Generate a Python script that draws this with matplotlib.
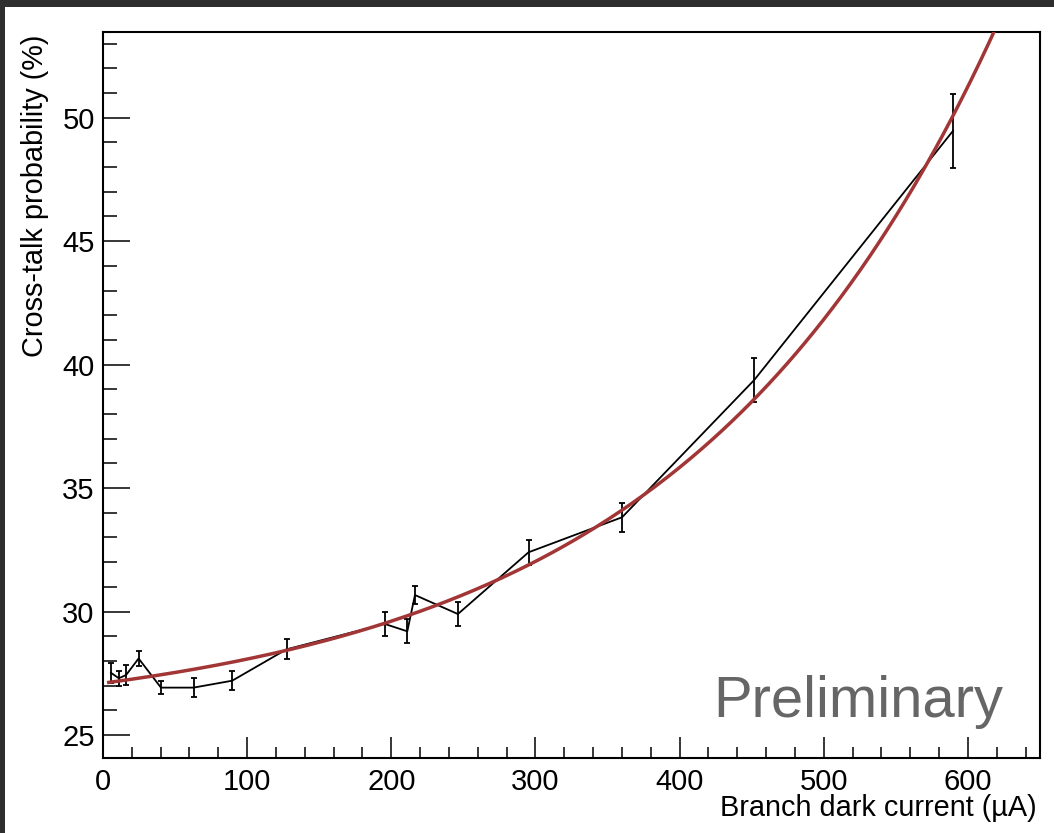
import numpy as np
import matplotlib.pyplot as plt
from matplotlib.patches import Rectangle
from matplotlib.ticker import MultipleLocator

plt.rcParams['font.family'] = ['Liberation Sans', 'DejaVu Sans']

# measured cross-talk vs. branch dark current
dark_current = [5.5, 11, 16, 24.7, 40.2, 62.8, 89.6, 127.3, 195.4, 211.1,
                216.4, 246.2, 295.2, 360.1, 451.8, 589.7]
crosstalk = [27.52, 27.3, 27.43, 28.1, 26.92, 26.92, 27.2, 28.47, 29.5, 29.2,
             30.67, 29.9, 32.4, 33.82, 39.38, 49.47]
crosstalk_err = [0.4, 0.3, 0.39, 0.31, 0.26, 0.38, 0.39, 0.4, 0.49, 0.49,
                 0.38, 0.49, 0.51, 0.59, 0.9, 1.5]

# exponential fit: p0 + p1 * exp(x / p2)
fit_p0 = 25.4
fit_p1 = 1.7
fit_p2 = 220.4
fit_xmin, fit_xmax = 4, 640

W, H = 1054, 833
fig = plt.figure(figsize=(W / 100, H / 100), dpi=100, facecolor='#2e2e2e')
fig.patches.append(Rectangle((5 / W, 0), 1 - 5 / W, (H - 7) / H,
                             transform=fig.transFigure, facecolor='white',
                             edgecolor='none', zorder=-10))

ax = fig.add_axes([103 / W, (H - 758) / H, (1040 - 103) / W, (758 - 32.5) / H])
ax.set_zorder(1)

ax.errorbar(dark_current, crosstalk, yerr=crosstalk_err, color='black',
            lw=1.3, elinewidth=1.3, capsize=2.2, capthick=1.3, zorder=2)

xf = np.linspace(fit_xmin, fit_xmax, 400)
ax.plot(xf, fit_p0 + fit_p1 * np.exp(xf / fit_p2), color='#a23636', lw=2.5, zorder=3)

ax.set_xlim(0, 650)
ax.set_ylim(24.07, 53.45)

ax.xaxis.set_major_locator(MultipleLocator(100))
ax.xaxis.set_minor_locator(MultipleLocator(20))
ax.yaxis.set_major_locator(MultipleLocator(5))
ax.yaxis.set_minor_locator(MultipleLocator(1))

ax.tick_params(axis='x', which='major', direction='in', length=15, width=1.1,
               labelsize=21, pad=7)
ax.tick_params(axis='x', which='minor', direction='in', length=8, width=1.1)
ax.tick_params(axis='y', which='major', direction='in', length=19.5, width=1.1,
               labelsize=21, pad=6)
ax.tick_params(axis='y', which='minor', direction='in', length=10, width=1.1)
for s in ax.spines.values():
    s.set_linewidth(1.5)

fig.text(35 / W, (H - 35) / H, 'Cross-talk probability (%)', rotation=90,
         ha='center', va='top', fontsize=20.8, zorder=2)
fig.text(1037 / W, (H - 808) / H, 'Branch dark current (µA)',
         ha='right', va='center', fontsize=20.8, zorder=2)
fig.text(1003 / W, (H - 717) / H, 'Preliminary', ha='right', va='baseline',
         fontsize=41.8, color='#666666', zorder=2)

fig.savefig('out.png', dpi=100, facecolor=fig.get_facecolor())
